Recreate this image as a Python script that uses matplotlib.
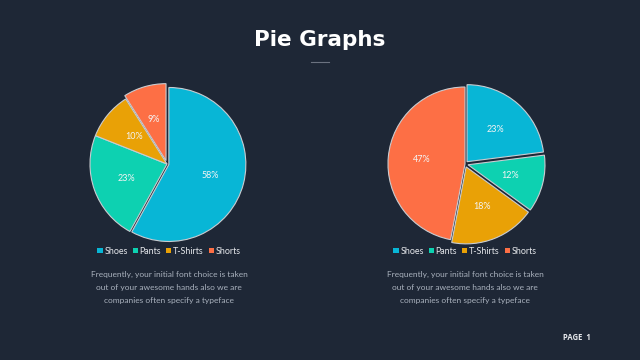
import matplotlib.pyplot as plt
from matplotlib.patches import Patch
from matplotlib.lines import Line2D

plt.rcParams['font.family'] = ['Lato', 'DejaVu Sans']

# data
categories = ['Shoes', 'Pants', 'T-Shirts', 'Shorts']
left_values = [58, 23, 10, 9]
right_values = [23, 12, 18, 47]
colors = ['#08b6d6', '#0dd1b1', '#e9a106', '#fd6f45']

bg = '#1e2736'
text_grey = '#a9b1bd'
body = "Frequently, your initial font choice is taken\nout of your awesome hands also we are\ncompanies often specify a typeface"

fig = plt.figure(figsize=(6.4, 3.6), dpi=100, facecolor=bg)

W, H = 640, 360
size = 180


def make_pie(cx, cy, values, explode):
    ax = fig.add_axes([(cx - size / 2) / W, (H - cy - size / 2) / H, size / W, size / H])
    ax.set_facecolor(bg)
    ax.pie(values, colors=colors, startangle=90, counterclock=False,
           explode=explode, autopct='%d%%', pctdistance=0.56,
           wedgeprops=dict(edgecolor='#c9ccd1', linewidth=0.8),
           textprops=dict(color='#f4f4f4', fontsize=6.5))
    lim = size / 2 / 77
    ax.set_xlim(-lim, lim)
    ax.set_ylim(-lim, lim)
    ax.set_aspect('equal')
    ax.axis('off')
    return ax


make_pie(167, 164, left_values, [0.025, 0, 0, 0.045])
make_pie(465, 164, right_values, [0.04, 0.04, 0.04, 0.0])

# legends
handles = [Patch(facecolor=c, edgecolor='none') for c in colors]
for cx in (169, 465):
    fig.legend(handles, categories, loc='center', bbox_to_anchor=(cx / W, 1 - 251 / H),
               ncol=4, frameon=False, fontsize=6.4, labelcolor='#e6e8ec',
               handlelength=0.6, handleheight=0.6, handletextpad=0.2,
               columnspacing=0.55, borderaxespad=0)
    fig.text(cx / W, 1 - 287 / H, body, ha='center', va='center',
             color=text_grey, fontsize=6.0, linespacing=2.0)

# title
fig.text(0.5, 1 - 40 / H, 'Pie Graphs', ha='center', va='center',
         color='white', fontsize=15.5, fontweight='bold', family=['DejaVu Sans'])
fig.add_artist(Line2D([311 / W, 329 / W], [1 - 62 / H, 1 - 62 / H], color='#6b7280', lw=0.8))

fig.text(563 / W, 1 - 337 / H, 'PAGE  1', ha='left', va='center',
         color='#e6e8ec', fontsize=5.5, fontweight='bold', family=['Open Sans', 'DejaVu Sans'])

fig.savefig('out.png', dpi=100, facecolor=bg)
